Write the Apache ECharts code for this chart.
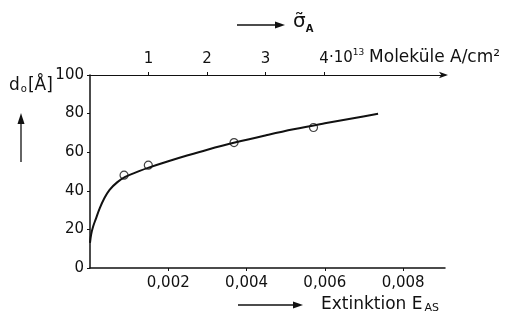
<!DOCTYPE html>
<html><head><meta charset="utf-8">
<script src="https://cdn.jsdelivr.net/npm/echarts@6/dist/echarts.min.js"></script>
<style>html,body{margin:0;padding:0;background:#fff}#c{width:509px;height:318px}</style>
</head><body><div id="c"></div>
<script>
// Data
const curveX = [0, 0.00003, 0.00008, 0.00015, 0.00025, 0.00035, 0.0005, 0.0007, 0.0009, 0.00127, 0.0015, 0.002, 0.0025, 0.003, 0.0037, 0.0045, 0.0052, 0.006, 0.0068, 0.00736];
const curveY = [13, 17.5, 21.5, 25.5, 31, 35.5, 40.5, 44.5, 47.2, 50.3, 52, 55.3, 58.4, 61.3, 65, 68.8, 71.9, 75, 77.9, 79.9];
const pointX = [0.00087, 0.00149, 0.00368, 0.00571];
const pointY = [48.1, 53.3, 65.0, 72.8];
const bottomTicks = [0.002, 0.004, 0.006, 0.008];
const topTicks = [1, 2, 3, 4];

const F = 'DejaVu Sans';
const chart = echarts.init(document.getElementById('c'), null, {renderer: 'canvas'});
const lineData = curveX.map((x, i) => [x, curveY[i]]);
const ptData = pointX.map((x, i) => [x, pointY[i]]);

chart.setOption({
  animation: false,
  backgroundColor: '#fff',
  grid: {left: 90, top: 75, width: 355, height: 193, containLabel: false},
  xAxis: [{
    type: 'value', position: 'bottom', min: 0, max: 0.00907,
    splitLine: {show: false},
    axisLine: {show: true, onZero: false, lineStyle: {color: '#111', width: 1.5}},
    axisTick: {show: true, length: 3, customValues: bottomTicks, lineStyle: {color: '#111', width: 1}},
    axisLabel: {customValues: bottomTicks, margin: 8, color: '#111', fontFamily: F, fontSize: 15,
      formatter: v => v.toFixed(3).replace('.', ',')}
  }, {
    type: 'value', position: 'top', min: 0, max: 6.07,
    splitLine: {show: false},
    axisLine: {show: true, onZero: false, symbol: ['none', 'arrow'], symbolSize: [5, 9], symbolOffset: [0, 3],
      lineStyle: {color: '#111', width: 1.2}},
    axisTick: {show: true, length: 3, customValues: topTicks, lineStyle: {color: '#111', width: 1}},
    axisLabel: {customValues: topTicks, margin: 8, color: '#111', fontFamily: F, fontSize: 15,
      formatter: v => String(v)}
  }],
  yAxis: {
    type: 'value', min: 0, max: 100, interval: 20,
    splitLine: {show: false},
    axisLine: {show: true, lineStyle: {color: '#111', width: 1.5}},
    axisTick: {show: true, length: 3, lineStyle: {color: '#111', width: 1}},
    axisLabel: {margin: 6, color: '#111', fontFamily: F, fontSize: 15}
  },
  series: [{
    type: 'line', data: lineData, smooth: 0.4, symbol: 'none', xAxisIndex: 0,
    lineStyle: {color: '#111', width: 2}
  }, {
    type: 'scatter', data: ptData, xAxisIndex: 0, symbol: 'circle', symbolSize: 8,
    itemStyle: {color: '#fff', borderColor: '#111', borderWidth: 1.2}
  }],
  graphic: [
    // y-axis title
    {type: 'text', left: 9, top: 77, style: {
      text: 'd{sub|o}[Å]', fill: '#111', font: '17px "DejaVu Sans"',
      rich: {sub: {fontSize: 10, fontFamily: F, verticalAlign: 'bottom', padding: [8, 1, 0, 1]}}
    }},
    // y up arrow
    {type: 'line', shape: {x1: 21, y1: 162, x2: 21, y2: 120}, style: {stroke: '#111', lineWidth: 1.3}},
    {type: 'polygon', shape: {points: [[21, 113], [17.5, 124], [24.5, 124]]}, style: {fill: '#111'}},
    // top arrow and sigma
    {type: 'line', shape: {x1: 237, y1: 25, x2: 278, y2: 25}, style: {stroke: '#111', lineWidth: 1.3}},
    {type: 'polygon', shape: {points: [[285, 25], [275, 21.5], [275, 28.5]]}, style: {fill: '#111'}},
    {type: 'text', left: 293, top: 12, style: {
      text: 'σ̃{sub|A}', fill: '#111', font: '20px "DejaVu Sans"',
      rich: {sub: {fontSize: 10, fontFamily: F, fontWeight: 'bold', padding: [14, 0, 0, 0]}}
    }},
    // top unit text
    {type: 'text', x: 329, y: 58, style: {
      text: '·10{sup|13} {big|Moleküle A/cm²}', fill: '#111', font: '15px "DejaVu Sans"',
      verticalAlign: 'middle',
      rich: {sup: {fontSize: 9, fontFamily: F, padding: [0, 0, 10, 0]},
             big: {fontSize: 17, fontFamily: F}}
    }},
    // bottom arrow and title
    {type: 'line', shape: {x1: 238, y1: 305, x2: 296, y2: 305}, style: {stroke: '#111', lineWidth: 1.3}},
    {type: 'polygon', shape: {points: [[303, 305], [293, 301.5], [293, 308.5]]}, style: {fill: '#111'}},
    {type: 'text', left: 321, top: 296, style: {
      text: 'Extinktion E{sub|AS}', fill: '#111', font: '17px "DejaVu Sans"',
      rich: {sub: {fontSize: 11, fontFamily: F, padding: [8, 0, 0, 2]}}
    }}
  ]
});
</script></body></html>
